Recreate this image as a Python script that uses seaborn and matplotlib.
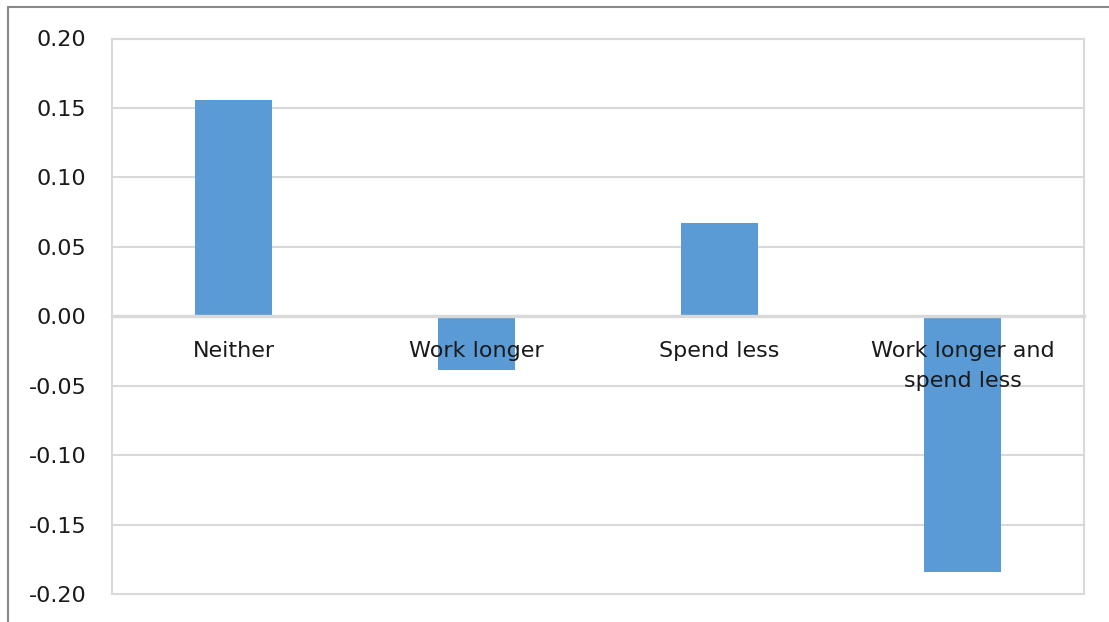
import matplotlib
matplotlib.use("Agg")
import matplotlib.pyplot as plt
import seaborn as sns
from matplotlib.lines import Line2D

categories = ["Neither", "Work longer", "Spend less", "Work longer and\nspend less"]
values = [0.156, -0.039, 0.067, -0.184]
yticks = [-0.20, -0.15, -0.10, -0.05, 0.00, 0.05, 0.10, 0.15, 0.20]

sns.set_theme(style="white")
plt.rcParams["font.family"] = ["DejaVu Sans"]

W, H = 1109, 622
fig = plt.figure(figsize=(W / 100, H / 100), dpi=100)
ax = fig.add_axes([112 / W, 1 - 594 / H, (1084 - 112) / W, (594 - 38.5) / H])

sns.barplot(x=categories, y=values, color="#5B9BD5", saturation=1, width=0.316,
            linewidth=0, ax=ax)

ax.set_ylim(-0.2, 0.2)
ax.set_xlim(-0.5, len(categories) - 0.5)
ax.set_yticks(yticks)
ax.set_yticklabels([f"{v:.2f}" for v in yticks])
ax.set_xlabel("")
ax.set_ylabel("")

grid_c = "#d9d9d9"
ax.yaxis.grid(True, color=grid_c, linewidth=1.5)
ax.xaxis.grid(False)
ax.yaxis.set_zorder(0.5)
ax.xaxis.set_zorder(3)
for gl in ax.get_ygridlines():
    gl.set_clip_on(False)

for s in ["left", "right", "top"]:
    ax.spines[s].set_color(grid_c)
    ax.spines[s].set_linewidth(1.5)
ax.spines["bottom"].set_position(("data", 0))
ax.spines["bottom"].set_color(grid_c)
ax.spines["bottom"].set_linewidth(2.4)

ax.tick_params(axis="y", length=0, pad=18.5, labelsize=16, labelcolor="#1a1a1a")
ax.tick_params(axis="x", length=0, pad=17.5, labelsize=16, labelcolor="#1a1a1a")
for t in ax.get_xticklabels():
    t.set_linespacing(1.65)

# outer chart frame (visible on top and left)
fc = "#888888"
fig.add_artist(Line2D([8 / W, 8 / W], [0, 1 - 7 / H], color=fc, linewidth=1.5, transform=fig.transFigure))
fig.add_artist(Line2D([8 / W, 1], [1 - 7 / H, 1 - 7 / H], color=fc, linewidth=1.5, transform=fig.transFigure))

fig.savefig("out.png", dpi=100)
